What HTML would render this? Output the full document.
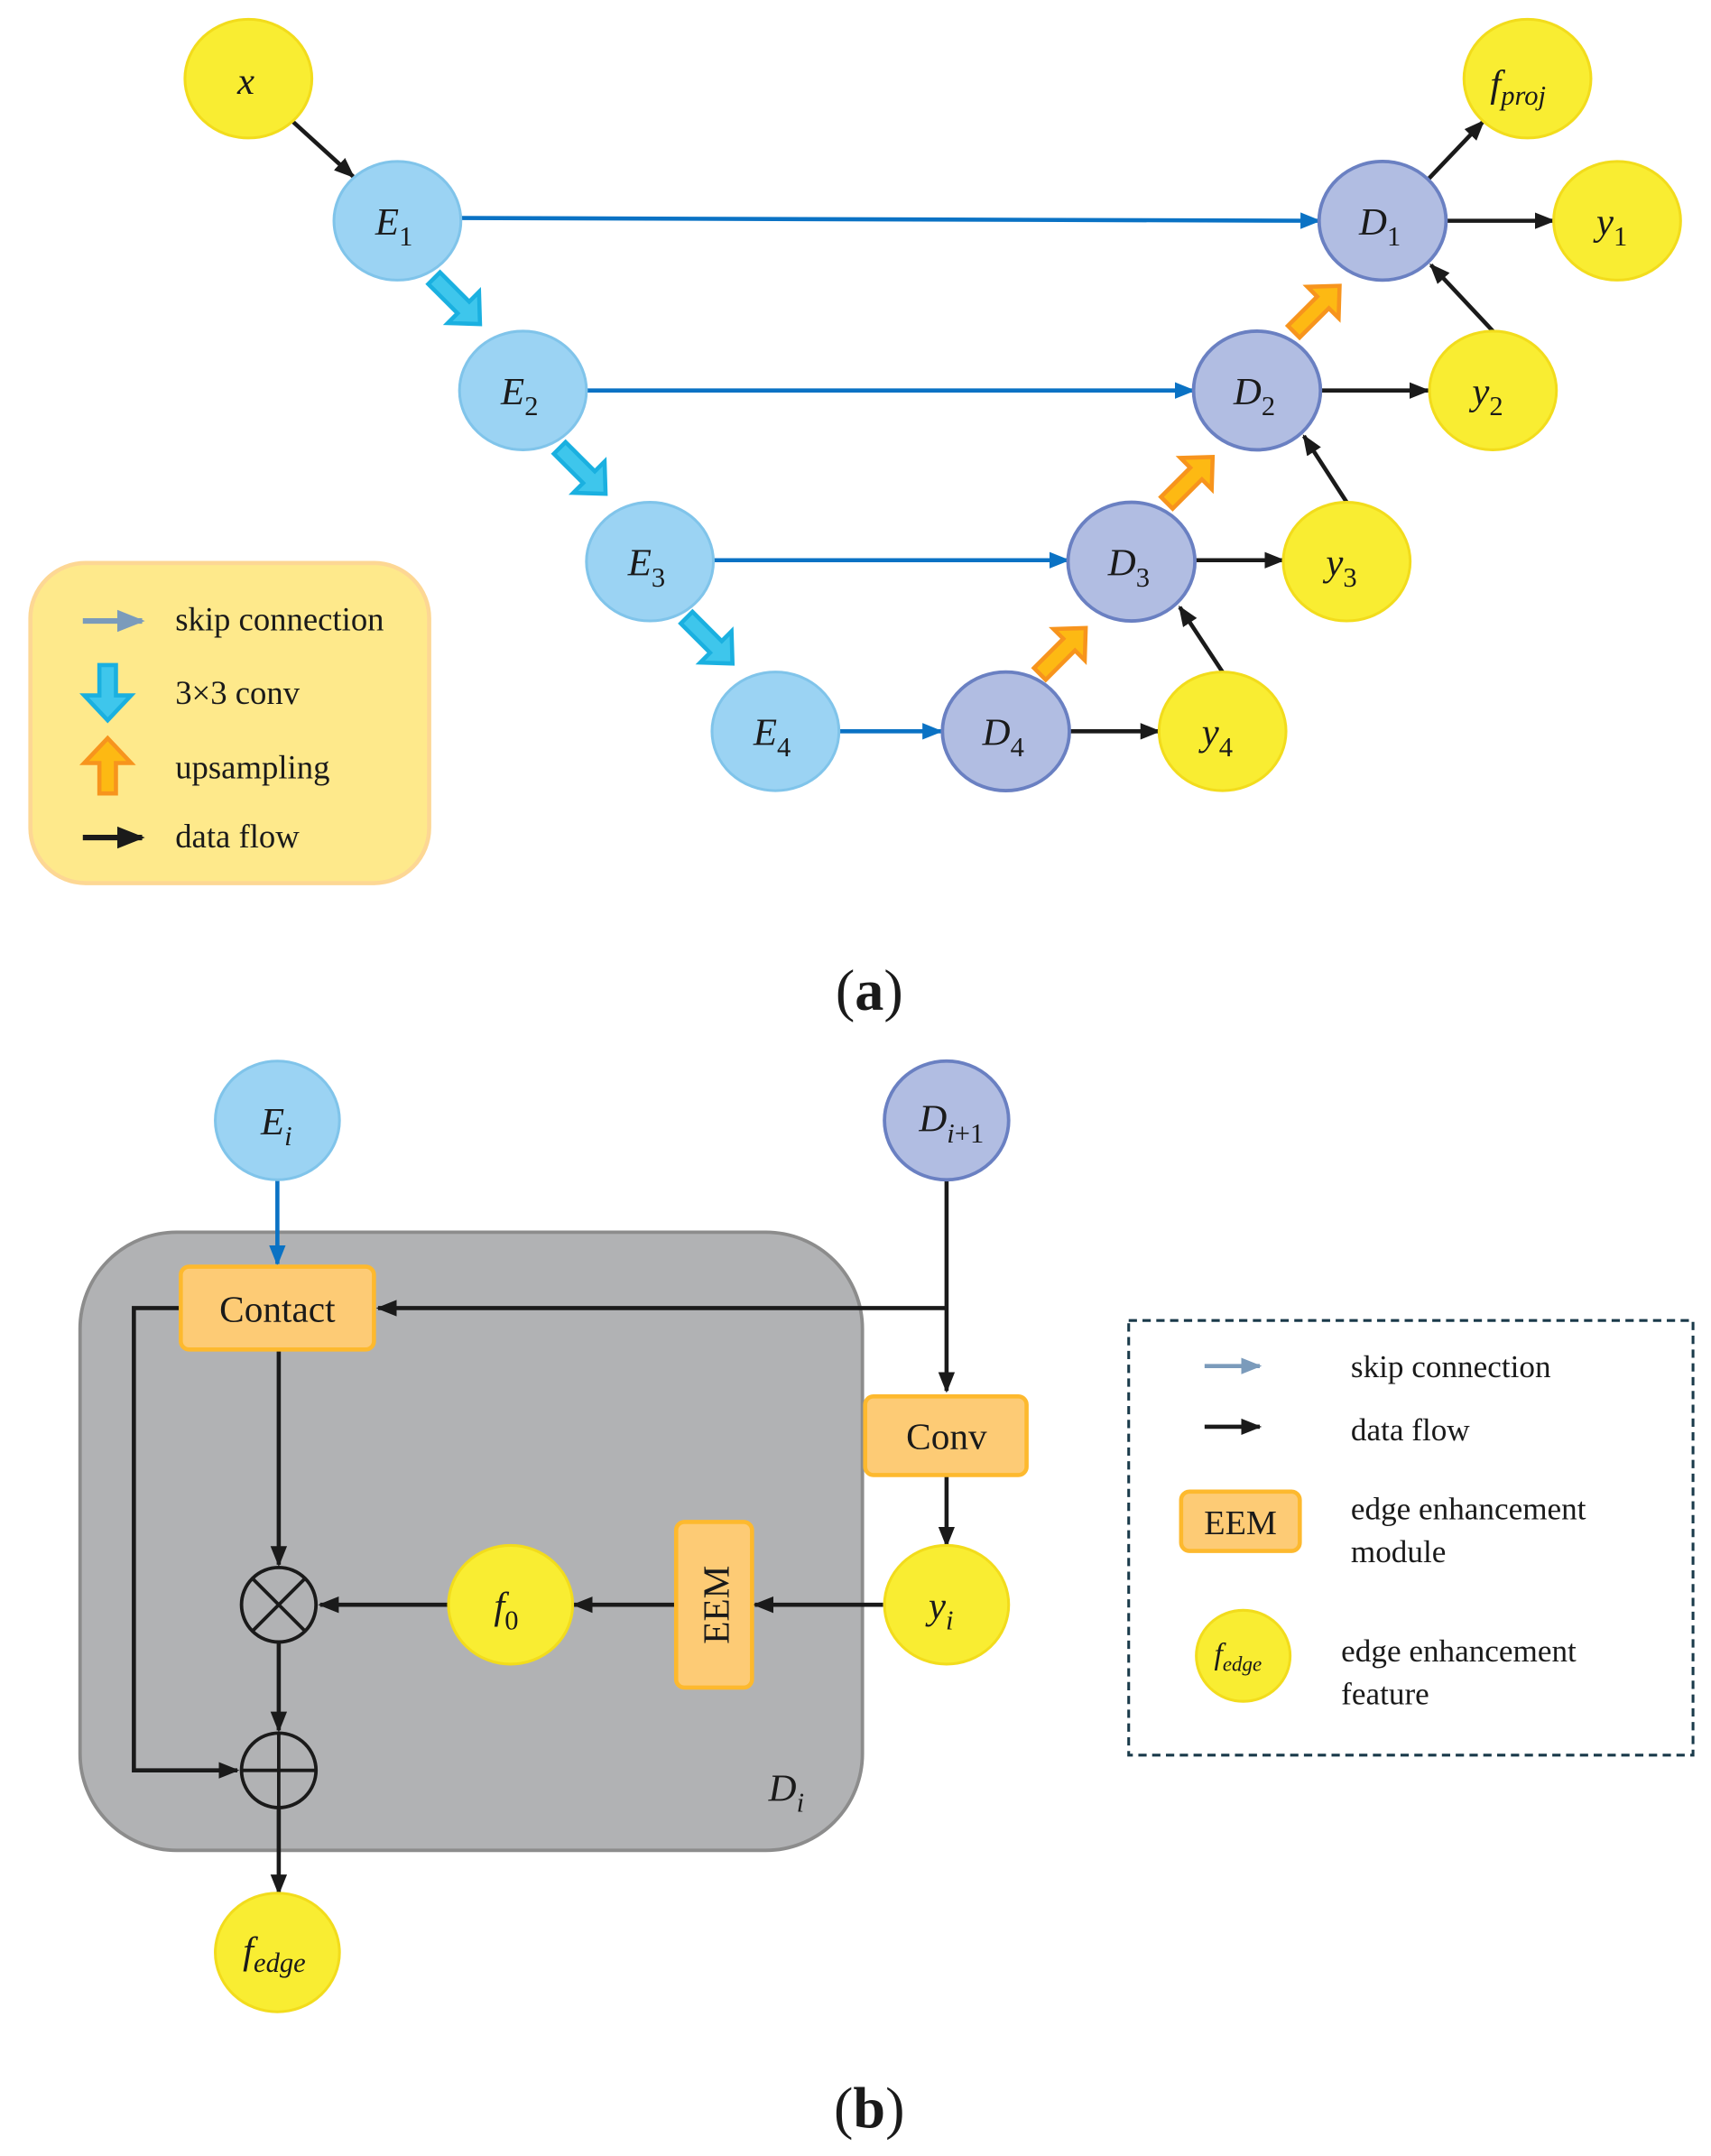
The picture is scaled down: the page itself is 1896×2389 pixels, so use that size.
<!DOCTYPE html>
<html><head><style>
html,body{margin:0;padding:0;background:#fff}
svg{display:block}
text{font-family:"Liberation Serif",serif;fill:#1a1a1a}
.m{font-style:italic;font-size:28px}
.s{font-size:20px}
.l{font-size:23px}
.la{font-size:24px}
</style></head><body>
<svg width="1896" height="2389" viewBox="0 0 1240 1562.5" xmlns="http://www.w3.org/2000/svg">
<defs>
<marker id="ab" viewBox="0 0 10 10" refX="9" refY="5" markerWidth="5" markerHeight="5" orient="auto"><path d="M0,1 L10,5 L0,9z" fill="#0a72c4"/></marker>
<marker id="ak" viewBox="0 0 10 10" refX="9" refY="5" markerWidth="5" markerHeight="5" orient="auto"><path d="M0,1 L10,5 L0,9z" fill="#1a1a1a"/></marker>
<marker id="ag" viewBox="0 0 10 10" refX="9" refY="5" markerWidth="5" markerHeight="5" orient="auto"><path d="M0,1 L10,5 L0,9z" fill="#7b9bbb"/></marker>
<polygon id="dn" points="-6,-20 6,-20 6,2 17,2 0,20 -17,2 -6,2"/>
<polygon id="dl" points="-6,-26 6,-26 6,4 16,4 0,21 -16,4 -6,4"/>
</defs>

<!-- legend a -->
<rect x="22" y="408" width="289" height="232" rx="40" fill="#fee98b" stroke="#fdd794" stroke-width="3"/>
<line x1="60" y1="450" x2="103" y2="450" stroke="#7b9bbb" stroke-width="4" marker-end="url(#ag)"/>
<use href="#dn" x="78" y="502" fill="#3ec6ec" stroke="#1ab0e0" stroke-width="3"/>
<use href="#dn" transform="translate(78,555) rotate(180)" fill="#fdb913" stroke="#f7941d" stroke-width="3"/>
<line x1="60" y1="607" x2="103" y2="607" stroke="#1a1a1a" stroke-width="4" marker-end="url(#ak)"/>
<text class="la" x="127" y="457">skip connection</text>
<text class="la" x="127" y="510">3×3 conv</text>
<text class="la" x="127" y="564">upsampling</text>
<text class="la" x="127" y="614">data flow</text>

<!-- skip connections -->
<g stroke="#0a72c4" stroke-width="3" fill="none" marker-end="url(#ab)">
<line x1="334" y1="158" x2="956" y2="160"/>
<line x1="425" y1="283" x2="865" y2="283"/>
<line x1="517" y1="406" x2="774" y2="406"/>
<line x1="608" y1="530" x2="682" y2="530"/>
</g>
<!-- data flow a -->
<g stroke="#1a1a1a" stroke-width="3" fill="none" marker-end="url(#ak)">
<line x1="211" y1="87" x2="256" y2="128"/>
<line x1="1035" y1="130" x2="1075" y2="88"/>
<line x1="1048" y1="160" x2="1126" y2="160"/>
<line x1="1082" y1="240" x2="1037" y2="192"/>
<line x1="957" y1="283" x2="1035" y2="283"/>
<line x1="976" y1="364" x2="945" y2="316"/>
<line x1="866" y1="406" x2="930" y2="406"/>
<line x1="886" y1="487" x2="855" y2="440"/>
<line x1="775" y1="530" x2="840" y2="530"/>
</g>
<!-- conv arrows -->
<g fill="#3ec6ec" stroke="#1ab0e0" stroke-width="3">
<use href="#dl" transform="translate(333,220) rotate(-45)"/>
<use href="#dl" transform="translate(424,343) rotate(-45)"/>
<use href="#dl" transform="translate(516,466) rotate(-45)"/>
</g>
<g fill="#fdb913" stroke="#f7941d" stroke-width="3">
<use href="#dl" transform="translate(772,470) rotate(225)"/>
<use href="#dl" transform="translate(864,346) rotate(225)"/>
<use href="#dl" transform="translate(956,222) rotate(225)"/>
</g>

<!-- nodes a -->
<g fill="#f9ed32" stroke="#f2dc1c" stroke-width="2">
<ellipse cx="180" cy="57" rx="46" ry="43"/>
<ellipse cx="1107" cy="57" rx="46" ry="43"/>
<ellipse cx="1172" cy="160" rx="46" ry="43"/>
<ellipse cx="1082" cy="283" rx="46" ry="43"/>
<ellipse cx="976" cy="407" rx="46" ry="43"/>
<ellipse cx="886" cy="530" rx="46" ry="43"/>
</g>
<g fill="#9bd3f3" stroke="#80c4ea" stroke-width="2">
<ellipse cx="288" cy="160" rx="46" ry="43"/>
<ellipse cx="379" cy="283" rx="46" ry="43"/>
<ellipse cx="471" cy="407" rx="46" ry="43"/>
<ellipse cx="562" cy="530" rx="46" ry="43"/>
</g>
<g fill="#b1bde2" stroke="#6a80c2" stroke-width="2.5">
<ellipse cx="1002" cy="160" rx="46" ry="43"/>
<ellipse cx="911" cy="283" rx="46" ry="43"/>
<ellipse cx="820" cy="407" rx="46" ry="43"/>
<ellipse cx="729" cy="530" rx="46" ry="43"/>
</g>
<text class="m" x="172" y="68">x</text>
<text class="m" x="1080" y="70">f<tspan class="s" dy="6">proj</tspan></text>
<text class="m" x="1157" y="170">y<tspan class="s" font-style="normal" dy="8">1</tspan></text>
<text class="m" x="1067" y="293">y<tspan class="s" font-style="normal" dy="8">2</tspan></text>
<text class="m" x="961" y="417">y<tspan class="s" font-style="normal" dy="8">3</tspan></text>
<text class="m" x="871" y="540">y<tspan class="s" font-style="normal" dy="8">4</tspan></text>
<text class="m" x="272" y="170">E<tspan class="s" font-style="normal" dy="8">1</tspan></text>
<text class="m" x="363" y="293">E<tspan class="s" font-style="normal" dy="8">2</tspan></text>
<text class="m" x="455" y="417">E<tspan class="s" font-style="normal" dy="8">3</tspan></text>
<text class="m" x="546" y="540">E<tspan class="s" font-style="normal" dy="8">4</tspan></text>
<text class="m" x="985" y="170">D<tspan class="s" font-style="normal" dy="8">1</tspan></text>
<text class="m" x="894" y="293">D<tspan class="s" font-style="normal" dy="8">2</tspan></text>
<text class="m" x="803" y="417">D<tspan class="s" font-style="normal" dy="8">3</tspan></text>
<text class="m" x="712" y="540">D<tspan class="s" font-style="normal" dy="8">4</tspan></text>

<text x="630" y="732" text-anchor="middle" font-size="42"><tspan>(</tspan><tspan font-weight="bold">a</tspan><tspan>)</tspan></text>

<!-- part b -->
<rect x="58" y="893" width="567" height="448" rx="70" fill="#b1b2b4" stroke="#8c8c8c" stroke-width="2.5"/>
<line x1="201" y1="855" x2="201" y2="916" stroke="#0a72c4" stroke-width="3" marker-end="url(#ab)"/>
<g stroke="#1a1a1a" stroke-width="3" fill="none">
<polyline points="686,855 686,948" />
<line x1="686" y1="948" x2="686" y2="1008" marker-end="url(#ak)"/>
<line x1="686" y1="948" x2="274" y2="948" marker-end="url(#ak)"/>
<line x1="686" y1="1069" x2="686" y2="1120" marker-end="url(#ak)"/>
<line x1="640" y1="1163" x2="547" y2="1163" marker-end="url(#ak)"/>
<line x1="490" y1="1163" x2="416" y2="1163" marker-end="url(#ak)"/>
<line x1="325" y1="1163" x2="232" y2="1163" marker-end="url(#ak)"/>
<line x1="202" y1="978" x2="202" y2="1134" marker-end="url(#ak)"/>
<line x1="202" y1="1190" x2="202" y2="1254" marker-end="url(#ak)"/>
<polyline points="131,948 97,948 97,1283 172,1283" marker-end="url(#ak)"/>
<line x1="202" y1="1310" x2="202" y2="1372" marker-end="url(#ak)"/>
</g>
<rect x="131" y="918" width="140" height="60" rx="6" fill="#fdcb75" stroke="#fdb92e" stroke-width="3"/>
<rect x="627" y="1012" width="117" height="57" rx="6" fill="#fdcb75" stroke="#fdb92e" stroke-width="3"/>
<rect x="490" y="1103" width="55" height="120" rx="6" fill="#fdcb75" stroke="#fdb92e" stroke-width="3"/>
<text x="201" y="958" text-anchor="middle" font-size="27">Contact</text>
<text x="686" y="1050" text-anchor="middle" font-size="27">Conv</text>
<text transform="translate(528,1163) rotate(-90)" text-anchor="middle" font-size="27">EEM</text>
<g stroke="#1a1a1a" stroke-width="2.5" fill="none">
<circle cx="202" cy="1163" r="27"/><line x1="183" y1="1144" x2="221" y2="1182"/><line x1="221" y1="1144" x2="183" y2="1182"/>
<circle cx="202" cy="1283" r="27"/><line x1="175" y1="1283" x2="229" y2="1283"/><line x1="202" y1="1256" x2="202" y2="1310"/>
</g>
<ellipse cx="201" cy="812" rx="45" ry="43" fill="#9bd3f3" stroke="#80c4ea" stroke-width="2"/>
<ellipse cx="686" cy="812" rx="45" ry="43" fill="#b1bde2" stroke="#6a80c2" stroke-width="2.5"/>
<g fill="#f9ed32" stroke="#f2dc1c" stroke-width="2">
<ellipse cx="686" cy="1163" rx="45" ry="43"/>
<ellipse cx="370" cy="1163" rx="45" ry="43"/>
<ellipse cx="201" cy="1415" rx="45" ry="43"/>
<ellipse cx="901" cy="1200" rx="34" ry="33"/>
</g>
<text class="m" x="189" y="822">E<tspan class="s" dy="8">i</tspan></text>
<text class="m" x="666" y="820">D<tspan class="s" dy="8">i</tspan><tspan class="s" font-style="normal">+1</tspan></text>
<text class="m" x="673" y="1173">y<tspan class="s" dy="8">i</tspan></text>
<text class="m" x="358" y="1173">f<tspan class="s" font-style="normal" dy="8">0</tspan></text>
<text class="m" x="176" y="1423">f<tspan class="s" dy="6">edge</tspan></text>
<text class="m" x="557" y="1305">D<tspan class="s" dy="8">i</tspan></text>

<!-- legend b -->
<rect x="818" y="957" width="409" height="315" fill="none" stroke="#1a3a4a" stroke-width="2" stroke-dasharray="6,4"/>
<line x1="873" y1="990" x2="913" y2="990" stroke="#7b9bbb" stroke-width="3" marker-end="url(#ag)"/>
<line x1="873" y1="1034" x2="913" y2="1034" stroke="#1a1a1a" stroke-width="3" marker-end="url(#ak)"/>
<rect x="856" y="1081" width="86" height="43" rx="6" fill="#fdcb75" stroke="#fdb92e" stroke-width="3"/>
<text x="899" y="1112" text-anchor="middle" font-size="25">EEM</text>
<text x="880" y="1206" font-style="italic" font-size="22">f<tspan font-size="15" dy="5">edge</tspan></text>
<text class="l" x="979" y="998">skip connection</text>
<text class="l" x="979" y="1044">data flow</text>
<text class="l" x="979" y="1101">edge enhancement</text>
<text class="l" x="979" y="1132">module</text>
<text class="l" x="972" y="1204">edge enhancement</text>
<text class="l" x="972" y="1235">feature</text>

<text x="630" y="1542" text-anchor="middle" font-size="42"><tspan>(</tspan><tspan font-weight="bold">b</tspan><tspan>)</tspan></text>
</svg>
</body></html>
